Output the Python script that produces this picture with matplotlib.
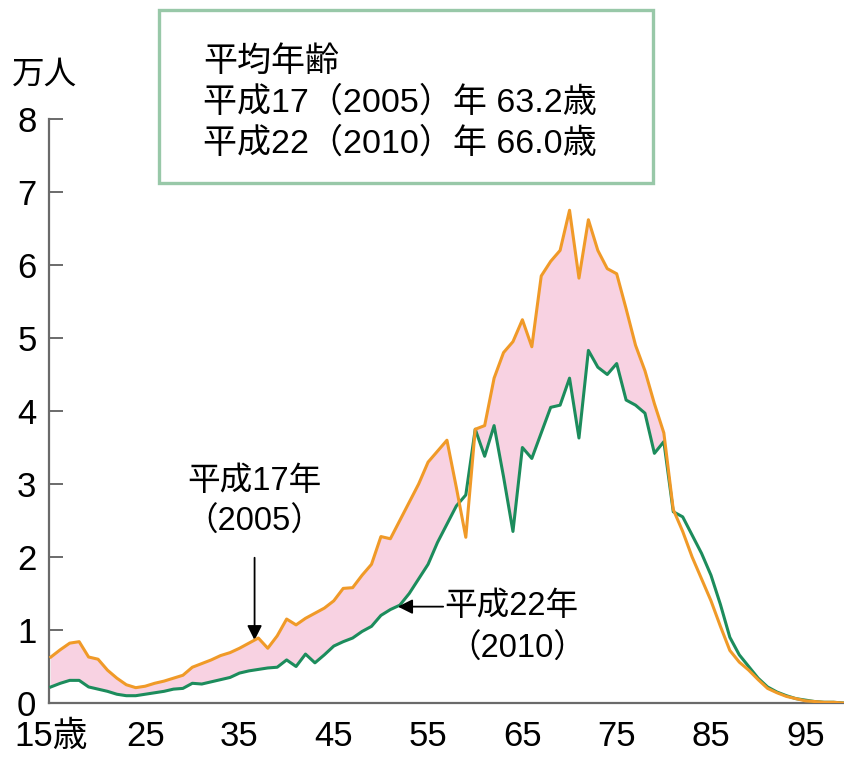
import numpy as np
import matplotlib
matplotlib.use('Agg')
import matplotlib.pyplot as plt
from matplotlib.patches import Rectangle

plt.rcParams['font.family'] = ['Liberation Sans', 'Noto Sans CJK JP', 'DejaVu Sans']

# ages 15..100
ages = np.arange(15, 101)

# 万人
pop_2005 = [0.63, 0.73, 0.82, 0.84, 0.63, 0.60, 0.45, 0.34, 0.25, 0.21,
            0.23, 0.27, 0.30, 0.34, 0.38, 0.49, 0.54, 0.59, 0.65, 0.69,
            0.75, 0.82, 0.89, 0.75, 0.92, 1.15, 1.07, 1.16, 1.23, 1.30,
            1.40, 1.57, 1.58, 1.75, 1.90, 2.28, 2.25, 2.50, 2.75, 3.00,
            3.30, 3.45, 3.60, 2.95, 2.27, 3.75, 3.80, 4.45, 4.80, 4.95,
            5.25, 4.88, 5.85, 6.05, 6.20, 6.75, 5.82, 6.62, 6.20, 5.95,
            5.88, 5.40, 4.90, 4.55, 4.10, 3.70, 2.65, 2.35, 2.00, 1.70,
            1.40, 1.05, 0.72, 0.56, 0.45, 0.32, 0.20, 0.14, 0.09, 0.06,
            0.03, 0.02, 0.01, 0.01, 0.00, 0.00]
pop_2010 = [0.22, 0.27, 0.31, 0.31, 0.22, 0.19, 0.16, 0.12, 0.10, 0.10,
            0.12, 0.14, 0.16, 0.19, 0.20, 0.27, 0.26, 0.29, 0.32, 0.35,
            0.41, 0.44, 0.46, 0.48, 0.49, 0.59, 0.50, 0.67, 0.55, 0.66,
            0.78, 0.84, 0.89, 0.98, 1.05, 1.20, 1.28, 1.34, 1.50, 1.70,
            1.90, 2.20, 2.45, 2.70, 2.85, 3.75, 3.38, 3.80, 3.10, 2.35,
            3.50, 3.35, 3.70, 4.05, 4.08, 4.45, 3.63, 4.83, 4.60, 4.50,
            4.65, 4.15, 4.08, 3.97, 3.42, 3.58, 2.62, 2.55, 2.30, 2.05,
            1.75, 1.35, 0.90, 0.66, 0.50, 0.34, 0.22, 0.15, 0.10, 0.06,
            0.04, 0.02, 0.01, 0.01, 0.00, 0.00]

xticks = [15, 25, 35, 45, 55, 65, 75, 85, 95]
xticklabels = ['15歳', '25', '35', '45', '55', '65', '75', '85', '95']
yticks = [0, 1, 2, 3, 4, 5, 6, 7, 8]

box_lines = ['平均年齢', '平成17（2005）年 63.2歳', '平成22（2010）年 66.0歳']

W, H = 844, 766
fig = plt.figure(figsize=(W / 100, H / 100), dpi=100)
ax = fig.add_axes([49 / W, (H - 703) / H, (844 - 49) / W, (703 - 119) / H])

orange = '#f09a28'
green = '#1c8c5c'
pink = '#f8d2e2'
fs_tick = 25
fs = 23.5

o = np.array(pop_2005)
g = np.array(pop_2010)
ax.fill_between(ages, g, o, where=o >= g, interpolate=True,
                color=pink, lw=0, zorder=1)
ax.plot(ages, pop_2010, color=green, lw=2.2, zorder=3)
ax.plot(ages, pop_2005, color=orange, lw=2.2, zorder=4)

ax.set_xlim(14.8, 14.8 + 795 / 9.43)
ax.set_ylim(0, 8)

for s in ['top', 'right']:
    ax.spines[s].set_visible(False)
ax.spines['left'].set_color('#6a6a6a')
ax.spines['bottom'].set_color('#6a6a6a')
ax.spines['left'].set_linewidth(1.6)
ax.spines['bottom'].set_linewidth(1.6)
ax.spines['left'].set_bounds(0, 8)

ax.set_yticks(yticks)
ax.set_yticklabels([str(v) for v in yticks])
ax.tick_params(axis='y', direction='in', length=10, width=1.4,
               color='#6a6a6a', pad=9, labelsize=fs_tick)
ax.set_xticks(xticks)
ax.set_xticklabels(xticklabels)
ax.tick_params(axis='x', length=0, pad=12, labelsize=fs_tick)

# annotations
ax.annotate('', xy=(36.6, 0.86), xytext=(36.6, 1.99),
            arrowprops=dict(arrowstyle='-|>', color='black', lw=1.3,
                            mutation_scale=22, shrinkA=0, shrinkB=0))
ax.text(36.6, 3.03, '平成17年', ha='center', va='center', fontsize=fs)
ax.text(36.6, 2.47, '（2005）', ha='center', va='center', fontsize=fs)

ax.annotate('', xy=(51.8, 1.32), xytext=(56.6, 1.32),
            arrowprops=dict(arrowstyle='-|>', color='black', lw=1.3,
                            mutation_scale=22, shrinkA=0, shrinkB=0))
ax.text(56.7, 1.32, '平成22年', ha='left', va='center', fontsize=fs)
ax.text(64.5, 0.73, '（2010）', ha='center', va='center', fontsize=fs)

# unit label
fig.text(12 / W, 1 - 75 / H, '万人', ha='left', va='center', fontsize=fs)

# legend-like box
fig.patches.append(Rectangle((159 / W, 1 - 183 / H), (653 - 159) / W, (183 - 10) / H,
                             transform=fig.transFigure, fill=False,
                             edgecolor='#98c8a8', lw=2.4))
for i, line in enumerate(box_lines):
    fig.text(203 / W, 1 - (62 + 41 * i) / H, line, ha='left', va='center', fontsize=24.5)

fig.savefig('out.png', dpi=100)
